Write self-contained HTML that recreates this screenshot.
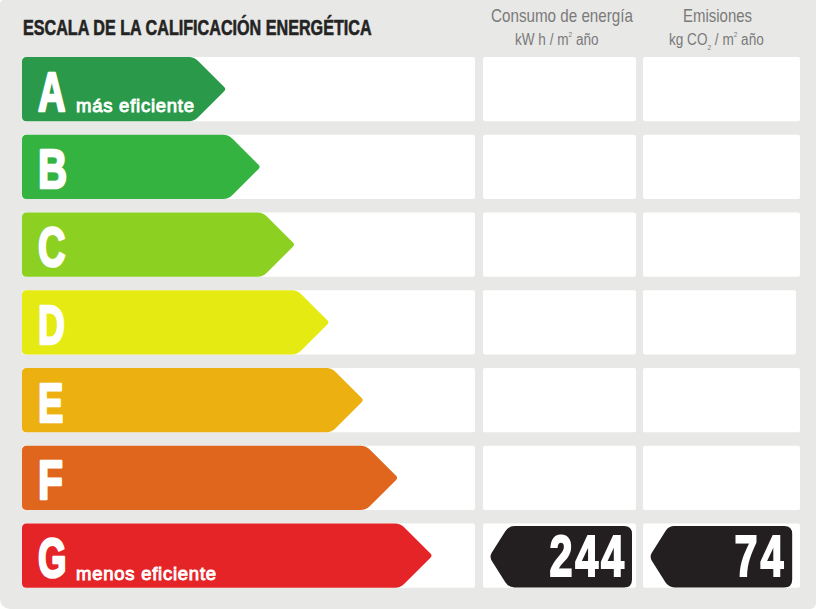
<!DOCTYPE html>
<html><head><meta charset="utf-8"><style>
html,body{margin:0;padding:0;}
html{background:#fff;} body{width:816px;height:609px;background:#e8e8e6;border-radius:4px 0 6px 10px;position:relative;overflow:hidden;font-family:"Liberation Sans",sans-serif;}
svg{position:absolute;left:0;top:0;}
.t{position:absolute;white-space:nowrap;transform-origin:0 0;line-height:1;}
.title{left:22.5px;top:18px;font-size:21.3px;font-weight:bold;color:#232323;transform:scaleX(0.758);-webkit-text-stroke:0.6px #262626;}
.hd{color:#7a7a7a;font-size:19px;}
.sub{color:#7a7a7a;font-size:15.6px;} .sub sup,.sub sub{font-size:7.5px;line-height:0;}
.lbl{color:#fff;font-size:18.5px;font-weight:normal;-webkit-text-stroke:0.9px #fff;letter-spacing:0.75px;}
.num{color:#fff;font-size:57.1px;font-weight:bold;line-height:1;-webkit-text-stroke:2px #fff;letter-spacing:3.9px;transform-origin:100% 0 !important;}
</style></head><body>
<svg width="816" height="609" viewBox="0 0 816 609">
<rect x="22" y="57.00" width="453" height="64.2" rx="2" fill="#fff"/>
<rect x="483" y="57.00" width="153" height="64.2" rx="2" fill="#fff"/>
<rect x="643" y="57.00" width="157" height="64.2" rx="2" fill="#fff"/>
<rect x="22" y="134.75" width="453" height="64.2" rx="2" fill="#fff"/>
<rect x="483" y="134.75" width="153" height="64.2" rx="2" fill="#fff"/>
<rect x="643" y="134.75" width="157" height="64.2" rx="2" fill="#fff"/>
<rect x="22" y="212.50" width="453" height="64.2" rx="2" fill="#fff"/>
<rect x="483" y="212.50" width="153" height="64.2" rx="2" fill="#fff"/>
<rect x="643" y="212.50" width="157" height="64.2" rx="2" fill="#fff"/>
<rect x="22" y="290.25" width="453" height="64.2" rx="2" fill="#fff"/>
<rect x="483" y="290.25" width="153" height="64.2" rx="2" fill="#fff"/>
<rect x="643" y="290.25" width="153" height="64.2" rx="2" fill="#fff"/>
<rect x="22" y="368.00" width="453" height="64.2" rx="2" fill="#fff"/>
<rect x="483" y="368.00" width="153" height="64.2" rx="2" fill="#fff"/>
<rect x="643" y="368.00" width="157" height="64.2" rx="2" fill="#fff"/>
<rect x="22" y="445.75" width="453" height="64.2" rx="2" fill="#fff"/>
<rect x="483" y="445.75" width="153" height="64.2" rx="2" fill="#fff"/>
<rect x="643" y="445.75" width="157" height="64.2" rx="2" fill="#fff"/>
<rect x="22" y="523.50" width="453" height="64.2" rx="2" fill="#fff"/>
<rect x="483" y="523.50" width="153" height="64.2" rx="2" fill="#fff"/>
<rect x="643" y="523.50" width="157" height="64.2" rx="2" fill="#fff"/>
<path d="M22.00,61.50 Q22.00,57.00 26.50,57.00 L188.70,57.00 Q194.20,57.00 198.09,60.89 L224.18,86.98 Q226.30,89.10 224.18,91.22 L198.09,117.31 Q194.20,121.20 188.70,121.20 L26.50,121.20 Q22.00,121.20 22.00,116.70 Z" fill="#2a9a4a"/>
<path d="M22.00,139.25 Q22.00,134.75 26.50,134.75 L223.08,134.75 Q228.58,134.75 232.47,138.64 L258.56,164.73 Q260.68,166.85 258.56,168.97 L232.47,195.06 Q228.58,198.95 223.08,198.95 L26.50,198.95 Q22.00,198.95 22.00,194.45 Z" fill="#34b341"/>
<path d="M22.00,217.00 Q22.00,212.50 26.50,212.50 L257.46,212.50 Q262.96,212.50 266.85,216.39 L292.94,242.48 Q295.06,244.60 292.94,246.72 L266.85,272.81 Q262.96,276.70 257.46,276.70 L26.50,276.70 Q22.00,276.70 22.00,272.20 Z" fill="#8cd122"/>
<path d="M22.00,294.75 Q22.00,290.25 26.50,290.25 L291.84,290.25 Q297.34,290.25 301.23,294.14 L327.32,320.23 Q329.44,322.35 327.32,324.47 L301.23,350.56 Q297.34,354.45 291.84,354.45 L26.50,354.45 Q22.00,354.45 22.00,349.95 Z" fill="#e5ea12"/>
<path d="M22.00,372.50 Q22.00,368.00 26.50,368.00 L326.22,368.00 Q331.72,368.00 335.61,371.89 L361.70,397.98 Q363.82,400.10 361.70,402.22 L335.61,428.31 Q331.72,432.20 326.22,432.20 L26.50,432.20 Q22.00,432.20 22.00,427.70 Z" fill="#edb011"/>
<path d="M22.00,450.25 Q22.00,445.75 26.50,445.75 L360.60,445.75 Q366.10,445.75 369.99,449.64 L396.08,475.73 Q398.20,477.85 396.08,479.97 L369.99,506.06 Q366.10,509.95 360.60,509.95 L26.50,509.95 Q22.00,509.95 22.00,505.45 Z" fill="#e0651d"/>
<path d="M22.00,528.00 Q22.00,523.50 26.50,523.50 L394.98,523.50 Q400.48,523.50 404.37,527.39 L430.46,553.48 Q432.58,555.60 430.46,557.72 L404.37,583.81 Q400.48,587.70 394.98,587.70 L26.50,587.70 Q22.00,587.70 22.00,583.20 Z" fill="#e52428"/>
<path d="M491.87,560.98 Q489.20,556.75 491.87,552.52 L505.31,531.18 Q508.51,526.10 514.51,526.10 L624.00,526.10 Q632.00,526.10 632.00,534.10 L632.00,579.40 Q632.00,587.40 624.00,587.40 L514.51,587.40 Q508.51,587.40 505.31,582.32 Z" fill="#231f20"/>
<path d="M651.97,560.98 Q649.30,556.75 651.97,552.52 L665.41,531.18 Q668.61,526.10 674.61,526.10 L784.20,526.10 Q792.20,526.10 792.20,534.10 L792.20,579.40 Q792.20,587.40 784.20,587.40 L674.61,587.40 Q668.61,587.40 665.41,582.32 Z" fill="#231f20"/>
<g transform="translate(38,110.50) scale(0.68,1)"><text x="0" y="0" font-family="Liberation Sans" font-weight="bold" font-size="56" fill="#fff" stroke="#fff" stroke-width="2.5" stroke-linejoin="round">A</text></g>
<g transform="translate(38,188.25) scale(0.72,1)"><text x="0" y="0" font-family="Liberation Sans" font-weight="bold" font-size="56" fill="#fff" stroke="#fff" stroke-width="2.5" stroke-linejoin="round">B</text></g>
<g transform="translate(38,266.00) scale(0.68,1)"><text x="0" y="0" font-family="Liberation Sans" font-weight="bold" font-size="56" fill="#fff" stroke="#fff" stroke-width="2.5" stroke-linejoin="round">C</text></g>
<g transform="translate(38,343.75) scale(0.665,1)"><text x="0" y="0" font-family="Liberation Sans" font-weight="bold" font-size="56" fill="#fff" stroke="#fff" stroke-width="2.5" stroke-linejoin="round">D</text></g>
<g transform="translate(38,421.50) scale(0.68,1)"><text x="0" y="0" font-family="Liberation Sans" font-weight="bold" font-size="56" fill="#fff" stroke="#fff" stroke-width="2.5" stroke-linejoin="round">E</text></g>
<g transform="translate(38,499.25) scale(0.73,1)"><text x="0" y="0" font-family="Liberation Sans" font-weight="bold" font-size="56" fill="#fff" stroke="#fff" stroke-width="2.5" stroke-linejoin="round">F</text></g>
<g transform="translate(38,577.00) scale(0.655,1)"><text x="0" y="0" font-family="Liberation Sans" font-weight="bold" font-size="56" fill="#fff" stroke="#fff" stroke-width="2.5" stroke-linejoin="round">G</text></g>
</svg>
<div class="t title">ESCALA DE LA CALIFICACIÓN ENERGÉTICA</div>
<div class="t hd" id="h1" style="left:491px;top:6px;transform:scaleX(0.8)">Consumo de energía</div>
<div class="t sub" id="s1" style="left:515px;top:32.3px;transform:scaleX(0.87)">kW h / m<sup style="vertical-align:8px">2</sup> año</div>
<div class="t hd" id="h2" style="left:683px;top:6px;transform:scaleX(0.788)">Emisiones</div>
<div class="t sub" id="s2" style="left:669px;top:32.3px;transform:scaleX(0.87)">kg CO<sub style="vertical-align:-5px">2</sub> / m<sup style="vertical-align:8px">2</sup> año</div>

<div class="t lbl" id="l1" style="left:76px;top:96.7px">más eficiente</div>
<div class="t lbl" id="l2" style="left:76px;top:564.5px">menos eficiente</div>
<div class="t num" id="n1" style="right:189px;top:528px;transform:scaleX(0.725)">244</div>
<div class="t num" id="n2" style="right:30px;top:528px;transform:scaleX(0.725)">74</div>
</body></html>
